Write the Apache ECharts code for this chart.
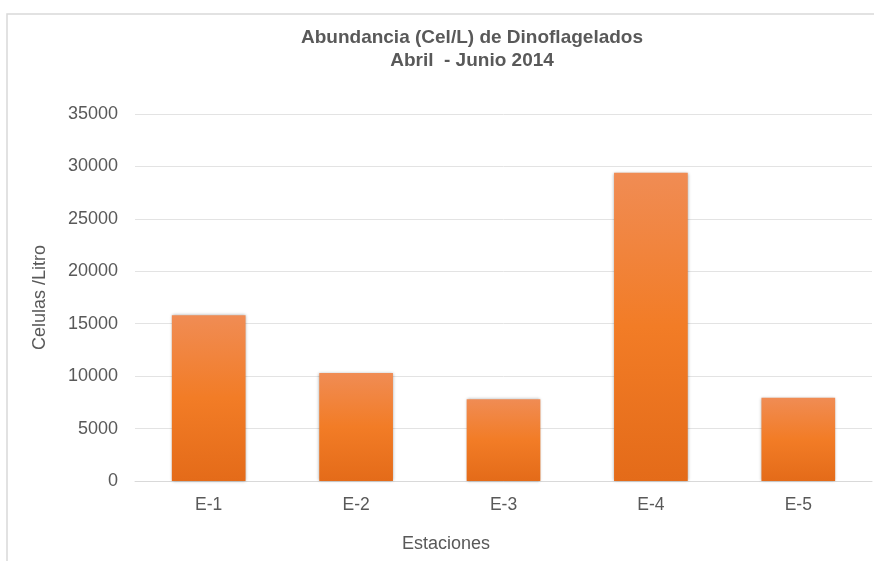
<!DOCTYPE html>
<html>
<head>
<meta charset="utf-8">
<script src="https://cdn.jsdelivr.net/npm/echarts@6/dist/echarts.min.js"></script>
<style>
html,body{margin:0;padding:0;background:#fff;}
#chart{width:874px;height:561px;}
</style>
</head>
<body>
<div id="chart"></div>
<script>
const categories = ['E-1', 'E-2', 'E-3', 'E-4', 'E-5'];
const abundance = [15800, 10300, 7800, 29400, 7950];
const titleText = 'Abundancia (Cel/L) de Dinoflagelados\nAbril  - Junio 2014';
const yAxisName = 'Celulas /Litro';
const xAxisName = 'Estaciones';

const chart = echarts.init(document.getElementById('chart'), null, {renderer: 'canvas'});
const fontFam = '"Liberation Sans", Arial, sans-serif';
chart.setOption({
  backgroundColor: '#ffffff',
  animation: false,
  graphic: [{
    type: 'rect',
    shape: {x: 7, y: 14, width: 900, height: 600},
    style: {fill: 'none', stroke: '#d9d9d9', lineWidth: 1.5},
    silent: true, z: -1
  }],
  title: {
    text: titleText,
    left: 467,
    top: 21,
    textAlign: 'center',
    textStyle: {
      fontFamily: fontFam, fontSize: 19, fontWeight: 'bold',
      color: '#595959', lineHeight: 23
    }
  },
  grid: {left: 135, right: 2, top: 114, bottom: 80, containLabel: false},
  xAxis: {
    type: 'category',
    data: categories,
    axisLine: {lineStyle: {color: '#d9d9d9', width: 1}},
    axisTick: {show: false},
    axisLabel: {fontFamily: fontFam, fontSize: 17.5, color: '#595959', margin: 15},
    name: xAxisName,
    nameLocation: 'middle',
    nameGap: 54,
    nameTextStyle: {fontFamily: fontFam, fontSize: 18, color: '#595959', padding: [0, 115, 0, 0]}
  },
  yAxis: {
    type: 'value',
    min: 0, max: 35000, interval: 5000,
    axisLine: {show: false},
    axisTick: {show: false},
    splitLine: {lineStyle: {color: '#e3e3e3', width: 1}},
    axisLabel: {fontFamily: fontFam, fontSize: 18, color: '#595959', margin: 17,
      formatter: function (v) { return String(v); }},
    name: yAxisName,
    nameLocation: 'middle',
    nameGap: 86,
    nameRotate: 90,
    nameTextStyle: {fontFamily: fontFam, fontSize: 18, color: '#595959'}
  },
  series: [{
    type: 'bar',
    data: abundance,
    barWidth: '50%',
    itemStyle: {
      color: new echarts.graphic.LinearGradient(0, 0, 0, 1, [
        {offset: 0, color: '#f08c54'},
        {offset: 0.5, color: '#f27c26'},
        {offset: 1, color: '#e46b19'}
      ]),
      shadowColor: 'rgba(0,0,0,0.35)',
      shadowBlur: 3,
      shadowOffsetX: 0,
      shadowOffsetY: 0
    }
  }]
});
</script>
</body>
</html>
